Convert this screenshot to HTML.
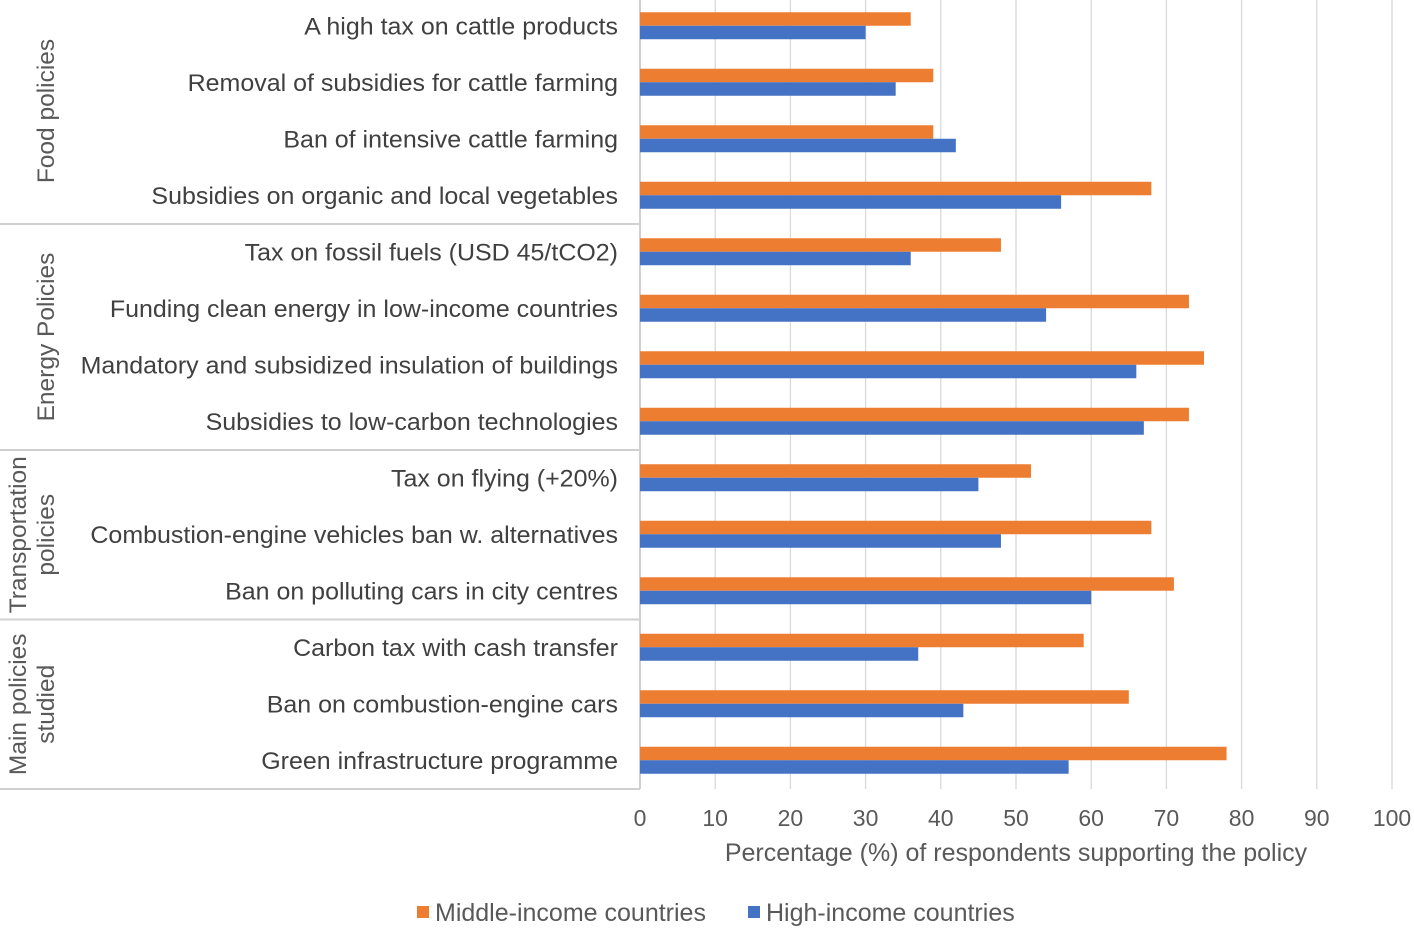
<!DOCTYPE html>
<html><head><meta charset="utf-8"><style>
body{margin:0;background:#fff;}
svg{display:block;font-family:"Liberation Sans",Arial,sans-serif;}
</style></head><body>
<svg id="chart" width="1414" height="932" viewBox="0 0 1414 932"></svg>
<script>
const categories=["A high tax on cattle products","Removal of subsidies for cattle farming","Ban of intensive cattle farming","Subsidies on organic and local vegetables","Tax on fossil fuels (USD 45/tCO2)","Funding clean energy in low-income countries","Mandatory and subsidized insulation of buildings","Subsidies to low-carbon technologies","Tax on flying (+20%)","Combustion-engine vehicles ban w. alternatives ","Ban on polluting cars in city centres","Carbon tax with cash transfer","Ban on combustion-engine cars","Green infrastructure programme"];
const middleIncome=[36,39,39,68,48,73,75,73,52,68,71,59,65,78];
const highIncome=[30,34,42,56,36,54,66,67,45,48,60,37,43,57];
const xTicks=[0,10,20,30,40,50,60,70,80,90,100];
const groups=[["Food policies"],["Energy Policies"],["Transportation","policies"],["Main policies","studied"]];
const groupSizes=[4,4,3,3];

const svg=document.getElementById('chart');
const NS='http://www.w3.org/2000/svg';
const X0=640,X1=1392,Y0=-2,Y1=789;
const n=categories.length,rowH=(Y1-Y0)/n;
const x=v=>X0+(v/100)*(X1-X0);
const yc=i=>Y0+rowH*(i+0.5);
function mk(t,a,p){const e=document.createElementNS(NS,t);for(const k in a)e.setAttribute(k,a[k]);(p||svg).appendChild(e);return e;}

xTicks.forEach(t=>{
  const g=mk('line',{x1:x(t),x2:x(t),y1:Y0,y2:Y1,stroke:t===0?'#d0d0d0':'#d9d9d9','stroke-width':t===0?2:1.3});
  
  
  const l=mk('text',{x:x(t),y:826,'text-anchor':'middle','font-size':23,fill:'#595959'});
  l.textContent=t;
  
  
});
categories.forEach((c,i)=>{
  const c0=yc(i);
  const o=mk('rect',{x:X0,y:c0-14,width:x(middleIncome[i])-X0,height:13.5,fill:'#ED7D31'});
  
  
  const b=mk('rect',{x:X0,y:c0-0.5,width:x(highIncome[i])-X0,height:13.5,fill:'#4472C4'});
  
  
  const t=mk('text',{x:0,y:0,'text-anchor':'end','font-size':24.5,fill:'#404040',transform:`translate(618,${c0+8}) scale(1.02,1)`});
  t.textContent=c;
  
  
});
let start=0;
groups.forEach((g,gi)=>{
  const end=start+groupSizes[gi];
  const ya=Y0+start*rowH,yb=Y0+end*rowH,ym=(ya+yb)/2;
  const ln=mk('line',{x1:0,x2:X0,y1:yb,y2:yb,stroke:'#d0d0d0','stroke-width':2});
  
  
  const xs=g.length===1?[54]:[26,54];
  g.forEach((s,si)=>{
    const t=mk('text',{x:0,y:0,'text-anchor':'middle','font-size':24.5,fill:'#595959',transform:`translate(${xs[si]},${ym}) rotate(-90)`});
    t.textContent=s;
    
    
  });
  start=end;
});
const at=mk('text',{x:1016,y:861,'text-anchor':'middle','font-size':25,fill:'#595959'});
at.textContent='Percentage (%) of respondents supporting the policy';


[['#ED7D31','Middle-income countries',417],['#4472C4','High-income countries',748]].forEach(([c,s,lx])=>{
  const r=mk('rect',{x:lx,y:906,width:12,height:12,fill:c});
  
  
  const t=mk('text',{x:lx+18,y:921,'font-size':25,fill:'#595959'});
  t.textContent=s;
  
  
});
</script>
</body></html>
